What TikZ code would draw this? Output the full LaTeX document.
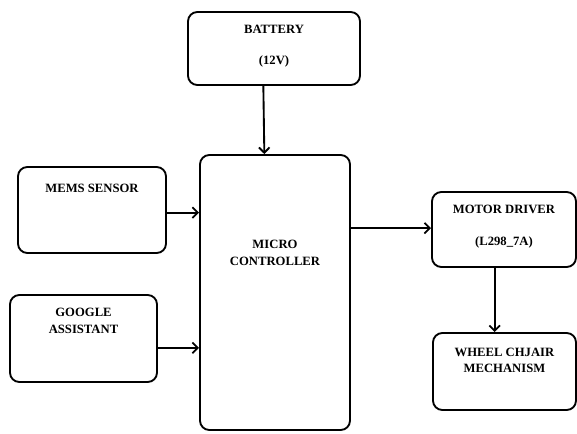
\documentclass[tikz,border=0pt]{standalone}
\usepackage{fontspec}
\setmainfont{Liberation Serif}
\usetikzlibrary{arrows.meta, positioning}

\begin{document}
\begin{tikzpicture}[x=0.75pt, y=-0.75pt,
  blk/.style={draw, line width=1.4pt, rounded corners=7pt, inner sep=0pt},
  lbl/.style={font=\bfseries\fontsize{9.5}{12.5}\selectfont, align=center, inner sep=0pt},
  flow/.style={line width=1.4pt, -{Straight Barb[length=4pt, width=8pt]}}]
  \useasboundingbox (0,0) rectangle (577,434);
  % blocks
  \node[blk, minimum width=129pt, minimum height=54.75pt] (bat) at (274,48.5) {};
  \node[blk, minimum width=112.5pt, minimum height=206.25pt] (mcu) at (275,292.5) {};
  \node[blk, minimum width=111pt, minimum height=64.5pt] (mems) at (92,210) {};
  \node[blk, minimum width=110.25pt, minimum height=65.25pt] (gass) at (83.5,338.5) {};
  \node[blk, minimum width=108pt, minimum height=56.25pt] (mdrv) at (504,229.5) {};
  \node[blk, minimum width=107.25pt, minimum height=57.75pt] (whl) at (504.5,371.5) {};
  % labels
  \node[lbl, below=10pt of bat.north] (batt) {BATTERY\\[11pt](12V)};
  \node[lbl] (mcut) at (275,253) {MICRO\\CONTROLLER};
  \node[lbl, below=13pt of mems.north] (memst) {MEMS SENSOR};
  \node[lbl, below=10.5pt of gass.north] (gasst) {GOOGLE\\ASSISTANT};
  \node[lbl, below=10.5pt of mdrv.north] (mdrvt) {MOTOR DRIVER\\[11pt](L298\_7A)};
  \node[lbl, below=11.5pt of whl.north] (whlt) {WHEEL CHJAIR\\MECHANISM};
  % connections
  \draw[flow] ([xshift=-8pt]bat.south) -- ([xshift=-8pt]mcu.north);
  \draw[flow] ([yshift=-2pt]mems.east) -- ([yshift=-2pt]mems.east -| mcu.west);
  \draw[flow] ([yshift=-7pt]gass.east) -- ([yshift=-7pt]gass.east -| mcu.west);
  \draw[flow] ([yshift=1pt]mcu.east |- mdrv.west) -- ([yshift=1pt]mdrv.west);
  \draw[flow] ([xshift=-7pt]mdrv.south) -- ([xshift=-7pt]mdrv.south |- whl.north);
\end{tikzpicture}
\end{document}
